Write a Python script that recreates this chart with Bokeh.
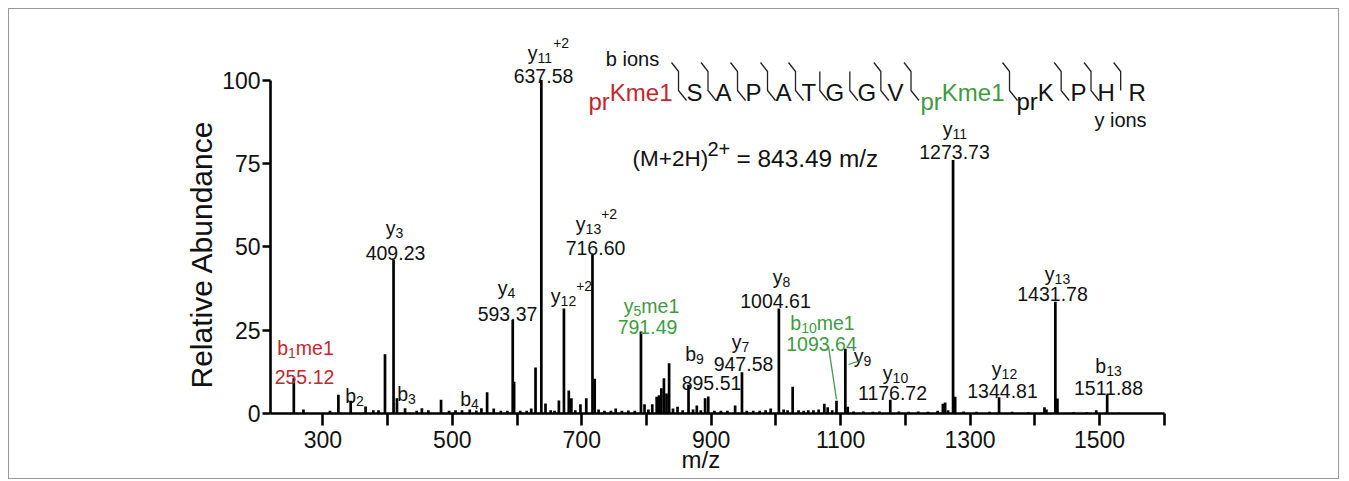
import math
import re
from bokeh.plotting import figure
from bokeh.models import Range1d, FixedTicker, ColumnDataSource, Title
from bokeh.core.properties import value
from bokeh.embed import file_html
from bokeh.resources import INLINE

# ---------------- data ----------------
peak_mz = [255.12, 270, 311, 324, 343, 366, 378, 386, 396, 409.23, 414.5, 427, 445, 453, 463,
           482.6, 495, 505, 515, 527, 537, 545, 553.8, 564, 575, 585, 593.37, 595.5, 605, 615,
           622, 628.6, 637.58, 644, 652, 658, 664.7, 672.5, 680, 684, 690, 698, 707, 716.60,
           720, 726, 735, 745, 752.5, 762, 772, 782, 791.49, 797, 803, 809, 815.8, 819.4, 823,
           827, 831, 835, 841, 848, 856, 865, 872, 877.8, 884, 890.6, 895.51, 905, 915, 925,
           937, 947.58, 955, 965, 975, 984, 992, 1004.61, 1012, 1018, 1025.9, 1035, 1043, 1050,
           1058, 1066, 1074.8, 1080, 1087, 1093.64, 1107.3, 1111, 1120, 1135, 1150, 1160,
           1176.72, 1190, 1205, 1220, 1235, 1250, 1258, 1261.5, 1266, 1273.73, 1277, 1290,
           1310, 1330, 1344.81, 1365, 1390, 1415, 1418, 1431.78, 1435, 1460, 1480, 1495,
           1511.88, 1530]
peak_ab = [10.6, 1.2, 0.8, 5.6, 3.8, 2.1, 1.0, 1.0, 17.8, 46.0, 4.6, 1.6, 0.8, 1.6, 1.0,
           4.1, 0.8, 1.0, 1.0, 1.2, 0.9, 1.6, 6.4, 1.5, 0.8, 0.8, 28.0, 9.5, 0.8, 0.8,
           1.5, 13.8, 100.0, 3.0, 1.0, 0.8, 3.9, 31.5, 6.9, 4.6, 1.0, 2.8, 4.6, 47.7,
           10.4, 1.2, 0.8, 0.8, 1.5, 0.8, 0.9, 0.8, 24.6, 2.8, 1.2, 2.8, 5.0, 5.5, 7.6,
           10.6, 6.0, 15.1, 1.5, 2.0, 1.0, 8.6, 1.2, 2.4, 1.0, 4.6, 5.1, 0.8, 0.8, 0.8,
           2.4, 12.4, 0.8, 0.8, 0.8, 1.0, 1.5, 31.5, 1.2, 1.0, 8.0, 1.0, 0.8, 1.0,
           1.0, 1.2, 2.9, 1.9, 1.0, 3.8, 19.4, 2.0, 0.6, 0.6, 0.5, 0.6,
           4.1, 0.6, 0.5, 0.6, 0.5, 0.8, 2.9, 3.3, 1.0, 76.0, 5.0, 0.6,
           0.5, 0.5, 4.9, 0.5, 0.4, 1.9, 1.2, 33.5, 4.5, 0.4, 0.4, 1.0,
           5.6, 0.3]

# labelled ions: name (markup _{} sub, ^{} sup), m/z text, colour key
ion_names = ["b_{1}me1", "b_{2}", "b_{3}", "b_{4}", "y_{3}", "y_{4}", "y_{11}^{+2}", "y_{12}^{+2}",
             "y_{13}^{+2}", "y_{5}me1", "b_{9}", "y_{7}", "y_{8}", "b_{10}me1", "y_{9}",
             "y_{10}", "y_{11}", "y_{12}", "y_{13}", "b_{13}"]
ion_values = ["255.12", "", "", "", "409.23", "593.37", "637.58", "", "716.60", "791.49",
              "895.51", "947.58", "1004.61", "1093.64", "", "1176.72", "1273.73", "1344.81",
              "1431.78", "1511.88"]
ion_colors = ["red", "k", "k", "k", "k", "k", "k", "k", "k", "green", "k", "k", "k", "green",
              "k", "k", "k", "k", "k", "k"]

seq_residues = ["prKme1", "S", "A", "P", "A", "T", "G", "G", "V", "prKme1", "prK", "P", "H", "R"]
seq_colors = ["red", "k", "k", "k", "k", "k", "k", "k", "k", "green", "k", "k", "k", "k"]
seq_b_marks = [1, 1, 1, 1, 1, 0, 0, 1, 1, 1, 1, 1, 1]
seq_y_marks = [1, 1, 1, 1, 1, 1, 1, 1, 1, 1, 1, 1, 0]

precursor_parts = ["(M+2H)", "2+", " = 843.49 m/z"]

x_ticks = list(range(300, 1601, 100))
y_ticks = [0, 25, 50, 75, 100]

# ---------------- layout (pixel positions on the page) ----------------
COL = {"red": "#c2272f", "green": "#3f9a42", "k": "#111111"}
FONT = "Liberation Sans"
X0, SX, PXL = 219.1, 0.6472, 270.0
SY, PYB = 3.335, 413.0


def px2x(px):
    return X0 + (px - PXL) / SX


def py2y(py):
    return (PYB - py) / SY


# name centre, name baseline, value centre, value baseline (page px)
ion_pos = [(305, 347, 304, 376), (354, 395, 0, 0), (406, 393, 0, 0), (469, 398, 0, 0),
           (394, 227, 395, 252), (506, 287, 507, 313), (548, 52, 543, 75),
           (571, 295, 0, 0), (596, 223, 595, 247), (651, 305, 647, 326),
           (694, 353, 711, 382), (740, 341, 743, 363), (781, 276, 775, 300),
           (822, 322, 821, 343), (862, 355, 0, 0), (895, 372, 892, 392),
           (955, 128, 954, 151), (1004, 368, 1002, 390), (1057, 273, 1052, 293),
           (1108, 365, 1108, 387)]

W = {c: .556 for c in "0123456789"}
W.update({".": .278, " ": .278, "y": .5, "b": .556, "m": .833, "e": .556, "+": .584,
          "i": .222, "o": .556, "n": .556, "s": .5, "p": .556, "r": .333, "K": .667,
          "S": .667, "A": .667, "P": .667, "T": .611, "G": .778, "V": .667, "H": .722,
          "R": .722, "(": .333, ")": .333, "M": .833, "=": .584, "/": .278, "z": .5})


def tw(s, size):
    return sum(W.get(c, .556) for c in s) * size


def parse(markup):
    out = []
    for m in re.finditer(r"_\{([^}]*)\}|\^\{([^}]*)\}|([^_^]+)", markup):
        if m.group(1) is not None:
            out.append((m.group(1), "sub"))
        elif m.group(2) is not None:
            out.append((m.group(2), "sup"))
        else:
            out.append((m.group(3), "n"))
    return out


tx, ty, tt, ts, tc, ta = [], [], [], [], [], []


def add_text(px, py, text, size, color, align="left"):
    tx.append(px2x(px)); ty.append(py2y(py)); tt.append(text)
    ts.append(f"{size}px"); tc.append(color); ta.append(align)


NS, SS = 19.5, 14
for name, val, ck, (nc, nb, vc, vb) in zip(ion_names, ion_values, ion_colors, ion_pos):
    pieces = parse(name)
    widths = [tw(txt, NS if kind == "n" else SS) for txt, kind in pieces]
    x = nc - sum(widths) / 2
    for (txt, kind), w in zip(pieces, widths):
        size = NS if kind == "n" else SS
        dy = 5 if kind == "sub" else (-10 if kind == "sup" else 0)
        add_text(x, nb + dy, txt, size, COL[ck])
        x += w
    if val:
        add_text(vc, vb, val, NS, COL[ck], "center")

# sequence
SEQ_SIZE = 24
seq_left = [588, 686, 715, 745, 775, 801, 825, 857, 887, 920, 1016, 1070, 1097, 1128]
SEQ_BASE = 92
for res, ck, left in zip(seq_residues, seq_colors, seq_left):
    if res.startswith("pr"):
        add_text(left, SEQ_BASE + 9, "pr", SEQ_SIZE, COL[ck])
        add_text(left + tw("pr", SEQ_SIZE), SEQ_BASE, res[2:], SEQ_SIZE, COL[ck])
    else:
        add_text(left, SEQ_BASE, res, SEQ_SIZE, COL[ck])

add_text(632, 58, "b ions", 20, COL["k"], "center")
add_text(1120, 119, "y ions", 20, COL["k"], "center")

# precursor
add_text(632, 158, precursor_parts[0], 22.5, COL["k"])
add_text(707, 148, precursor_parts[1], 20, COL["k"])
add_text(736, 158, precursor_parts[2], 24.4, COL["k"])

# separator lines
sep_xs, sep_ys = [], []
for i, (bm, ym) in enumerate(zip(seq_b_marks, seq_y_marks)):
    prev_right = seq_left[i] + tw(seq_residues[i], SEQ_SIZE)
    xv = (prev_right + seq_left[i + 1]) / 2 - 1
    xs, ys = [], []
    if bm:
        xs += [xv - 7, xv]; ys += [62, 71]
    else:
        xs += [xv]; ys += [71]
    xs += [xv]; ys += [90]
    if ym:
        xs += [xv + 8]; ys += [100]
    sep_xs.append([px2x(v) for v in xs])
    sep_ys.append([py2y(v) for v in ys])

# ---------------- figure ----------------
p = figure(width=1331, height=471, output_backend="svg", toolbar_location=None,
           x_range=Range1d(X0, px2x(1164)), y_range=Range1d(0, py2y(20)),
           min_border_left=261, min_border_right=176, min_border_top=11, min_border_bottom=67)
p.styles = {"border": "1px solid #9a9a9a", "margin-left": "8px", "margin-top": "8px"}
p.outline_line_color = None
p.xgrid.visible = False
p.ygrid.visible = False
p.background_fill_color = "white"
p.border_fill_color = "white"

p.segment(x0=peak_mz, y0=[0] * len(peak_mz), x1=peak_mz, y1=peak_ab,
          line_color="#000000", line_width=2.7)

src = ColumnDataSource(dict(x=tx, y=ty, text=tt, size=ts, color=tc, align=ta))
p.text(x="x", y="y", text="text", text_font_size="size", text_color="color",
       text_align="align", text_baseline="alphabetic", text_font=value(FONT), source=src)

p.multi_line(xs=sep_xs, ys=sep_ys, line_color="#222222", line_width=1.3)

# green leader lines
p.segment(x0=[px2x(828), px2x(848)], y0=[py2y(346), py2y(364)],
          x1=[px2x(836), px2x(860)], y1=[py2y(399), py2y(360)],
          line_color=COL["green"], line_width=1.3)

for ax in (p.xaxis[0], p.yaxis[0]):
    ax.axis_line_width = 2.6
    ax.axis_line_color = "black"
    ax.major_tick_line_width = 2.6
    ax.major_tick_line_color = "black"
    ax.minor_tick_line_color = None
    ax.major_tick_in = 0
    ax.major_label_text_font = FONT
    ax.major_label_text_font_size = "23px"
    ax.major_label_text_color = "#111111"

p.xaxis[0].ticker = FixedTicker(ticks=x_ticks)
p.xaxis[0].major_label_overrides = {t: "" for t in x_ticks if (t // 100) % 2 == 0}
p.xaxis[0].major_tick_out = 12
p.xaxis[0].major_label_standoff = 5
p.xaxis[0].axis_label = "m/z" + "\u00a0" * 5
p.xaxis[0].axis_label_text_font = FONT
p.xaxis[0].axis_label_text_font_size = "24px"
p.xaxis[0].axis_label_text_font_style = "normal"
p.xaxis[0].axis_label_text_color = "#111111"
p.xaxis[0].axis_label_standoff = -5
p.yaxis[0].ticker = FixedTicker(ticks=y_ticks)
p.yaxis[0].bounds = (0, 100)
p.yaxis[0].major_tick_out = 8
p.yaxis[0].major_label_standoff = 2

p.add_layout(Title(text="Relative Abundance", align="left", offset=25, standoff=4,
                   text_font=FONT, text_font_size="30px", text_font_style="normal",
                   text_color="#111111"), "left")

open("out.html", "w").write(file_html(p, INLINE))
